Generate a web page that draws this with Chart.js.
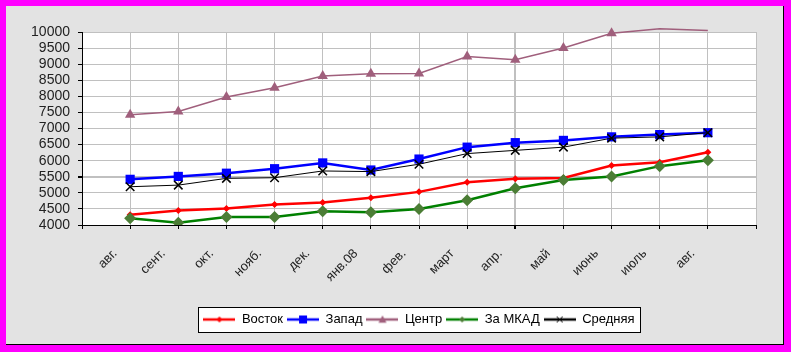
<!DOCTYPE html>
<html>
<head>
<meta charset="utf-8">
<script src="https://cdn.jsdelivr.net/npm/chart.js@4.4.1/dist/chart.umd.min.js"></script>
<style>
  html, body { margin: 0; padding: 0; background: #ff00ff; }
  canvas { display: block; }
</style>
</head>
<body>
<canvas id="chart" width="791" height="352"></canvas>
<script>
// Months on the category axis
const months = ['авг.', 'сент.', 'окт.', 'нояб.', 'дек.', 'янв.08', 'фев.', 'март', 'апр.', 'май', 'июнь', 'июль', 'авг.'];

// Series values
const vostok = [4320, 4450, 4510, 4640, 4700, 4850, 5030, 5330, 5440, 5460, 5850, 5950, 6260];
const zapad = [5420, 5510, 5610, 5750, 5930, 5710, 6050, 6420, 6560, 6630, 6740, 6810, 6870];
const centr = [7430, 7530, 7980, 8270, 8630, 8700, 8710, 9240, 9140, 9500, 9960, 10100, 10050];
const zaMkad = [4210, 4070, 4250, 4250, 4430, 4400, 4500, 4770, 5140, 5400, 5510, 5830, 6010];
const srednyaya = [5190, 5240, 5450, 5470, 5680, 5660, 5890, 6220, 6320, 6420, 6700, 6740, 6870];

// Y axis ticks
const yMin = 4000;
const yMax = 10000;
const yStep = 500;

const FONT = '"Liberation Sans", Arial, sans-serif';

function toPoints(values) {
  return values.map((v, i) => ({ x: i + 1, y: v }));
}

function drawMarker(ctx, style, x, y, r, fill, stroke, lw) {
  ctx.beginPath();
  if (style === 'rect') {
    ctx.rect(x - r, y - r, 2 * r, 2 * r);
  } else if (style === 'rectRot') {
    ctx.moveTo(x, y - r);
    ctx.lineTo(x + r, y);
    ctx.lineTo(x, y + r);
    ctx.lineTo(x - r, y);
    ctx.closePath();
  } else if (style === 'triangle') {
    ctx.moveTo(x, y - r);
    ctx.lineTo(x + r, y + r * 0.8);
    ctx.lineTo(x - r, y + r * 0.8);
    ctx.closePath();
  } else if (style === 'crossRot') {
    ctx.moveTo(x - r, y - r);
    ctx.lineTo(x + r, y + r);
    ctx.moveTo(x + r, y - r);
    ctx.lineTo(x - r, y + r);
    ctx.strokeStyle = stroke;
    ctx.lineWidth = lw;
    ctx.stroke();
    return;
  }
  ctx.fillStyle = fill;
  ctx.fill();
}

// Legend sample: line with a marker in the middle
function makeSample(color, width, style, r, markerColor) {
  const c = document.createElement('canvas');
  c.width = 32;
  c.height = 12;
  const ctx = c.getContext('2d');
  ctx.strokeStyle = color;
  ctx.lineWidth = width;
  ctx.beginPath();
  ctx.moveTo(0, 6);
  ctx.lineTo(32, 6);
  ctx.stroke();
  drawMarker(ctx, style, 16, 6, r, markerColor, markerColor, 1);
  return c;
}

const samples = [
  makeSample('#ff0000', 2.5, 'rectRot', 3, '#ff0000'),
  makeSample('#0000ff', 2.5, 'rect', 4, '#0000ff'),
  makeSample('#a05f7c', 2.5, 'triangle', 4, '#a05f7c'),
  makeSample('#008000', 2.5, 'rectRot', 3, '#4b7d35'),
  makeSample('#000000', 2.5, 'crossRot', 3, '#000000')
];

// Frame, plot background and the boxed legend
const framePlugin = {
  id: 'frame',
  beforeDraw(chart) {
    const { ctx, chartArea: a } = chart;
    ctx.save();
    ctx.fillStyle = '#ff00ff';
    ctx.fillRect(0, 0, chart.width, chart.height);
    ctx.fillStyle = '#e3e3e3';
    ctx.fillRect(6, 6, 777, 338);
    ctx.fillStyle = '#000';
    ctx.fillRect(783, 6, 1, 339);
    ctx.fillRect(6, 344, 778, 1);
    ctx.fillStyle = '#fff';
    ctx.fillRect(a.left, a.top, a.right - a.left, a.bottom - a.top);

    const boxes = chart.legend.legendHitBoxes;
    if (boxes && boxes.length) {
      const left = Math.min(...boxes.map(b => b.left)) - 5;
      const right = Math.max(...boxes.map(b => b.left + b.width)) + 6;
      const top = boxes[0].top - 6;
      const h = boxes[0].height + 12;
      ctx.fillStyle = '#fff';
      ctx.fillRect(left, top, right - left, h);
      ctx.strokeStyle = '#000';
      ctx.lineWidth = 1;
      ctx.strokeRect(Math.round(left) + 0.5, Math.round(top) + 0.5, Math.round(right - left), Math.round(h));
    }
    ctx.restore();
  }
};

new Chart(document.getElementById('chart'), {
  type: 'line',
  data: {
    datasets: [
      {
        label: 'Восток',
        data: toPoints(vostok),
        borderColor: '#ff0000',
        backgroundColor: '#ff0000',
        borderWidth: 2.5,
        pointStyle: 'rectRot',
        pointRadius: 3.5,
        pointBorderWidth: 0,
        tension: 0,
        order: 4
      },
      {
        label: 'Запад',
        data: toPoints(zapad),
        borderColor: '#0000ff',
        backgroundColor: '#0000ff',
        borderWidth: 2.5,
        pointStyle: 'rect',
        pointRadius: 6.5,
        pointBorderWidth: 0,
        tension: 0,
        order: 3
      },
      {
        label: 'Центр',
        data: toPoints(centr),
        borderColor: '#a05f7c',
        backgroundColor: '#a05f7c',
        borderWidth: 1.5,
        pointStyle: 'triangle',
        pointRadius: ctx => (ctx.raw && ctx.raw.y > yMax ? 0 : 6),
        pointBorderWidth: 0,
        tension: 0,
        clip: false,
        order: 2
      },
      {
        label: 'За МКАД',
        data: toPoints(zaMkad),
        borderColor: '#008000',
        backgroundColor: '#4b7d35',
        borderWidth: 2.5,
        pointStyle: 'rectRot',
        pointRadius: 6,
        pointBorderWidth: 0,
        tension: 0,
        order: 1
      },
      {
        label: 'Средняя',
        data: toPoints(srednyaya),
        borderColor: '#000000',
        backgroundColor: '#000000',
        borderWidth: 1,
        pointStyle: 'crossRot',
        pointRadius: 6,
        pointBorderColor: '#000000',
        pointBorderWidth: 1.5,
        tension: 0,
        order: 0
      }
    ]
  },
  options: {
    responsive: false,
    animation: false,
    events: [],
    layout: {
      padding: { top: 32, right: 35, bottom: 16, left: 0 }
    },
    scales: {
      x: {
        type: 'linear',
        min: 0,
        max: months.length + 1,
        afterFit: scale => { scale.height = 84; },
        border: { color: '#000', width: 1 },
        grid: {
          color: '#c0c0c0',
          tickColor: '#000',
          tickLength: 4,
          lineWidth: c => (c.tick && c.tick.value === 9 ? 2 : 1)
        },
        ticks: {
          stepSize: 1,
          autoSkip: false,
          minRotation: 45,
          maxRotation: 45,
          padding: 17,
          labelOffset: -15,
          color: '#222',
          font: { size: 13, family: FONT },
          callback: v => months[v - 1] || ''
        }
      },
      y: {
        min: yMin,
        max: yMax,
        afterFit: scale => { scale.width = 82; },
        border: { color: '#000', width: 1 },
        grid: {
          color: '#c0c0c0',
          tickColor: '#000',
          tickLength: 4,
          lineWidth: c => (c.tick && c.tick.value === 5500 ? 2 : 1)
        },
        ticks: {
          stepSize: yStep,
          autoSkip: false,
          padding: 8,
          color: '#222',
          font: { size: 14, family: FONT },
          callback: v => String(v)
        }
      }
    },
    plugins: {
      tooltip: { enabled: false },
      legend: {
        display: true,
        position: 'bottom',
        fullSize: false,
        labels: {
          usePointStyle: true,
          pointStyleWidth: 32,
          padding: 4,
          color: '#000',
          font: { size: 13, family: FONT },
          generateLabels: chart => chart.data.datasets.map((ds, i) => ({
            text: ds.label,
            pointStyle: samples[i],
            datasetIndex: i,
            hidden: false,
            lineWidth: 0,
            fontColor: '#000',
            strokeStyle: 'transparent',
            fillStyle: 'transparent'
          }))
        }
      }
    }
  },
  plugins: [framePlugin]
});
</script>
</body>
</html>
